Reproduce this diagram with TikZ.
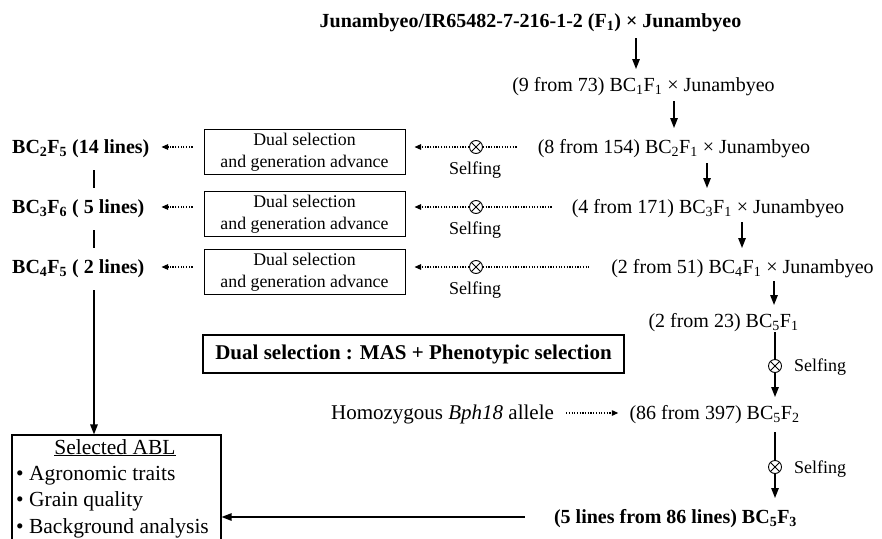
\documentclass[tikz,border=0pt]{standalone}
\usepackage{fontspec}
\setmainfont{Liberation Serif}
\usetikzlibrary{arrows.meta,calc}
\begin{document}
\begin{tikzpicture}[x=1pt,y=-1pt,
  txt/.style={inner sep=0pt,font=\fontsize{20}{24}\selectfont,text height=13pt,text depth=0pt},
  btxt/.style={txt,font=\fontsize{20}{24}\selectfont\bfseries},
  ltxt/.style={inner sep=0pt,font=\fontsize{21.5}{25}\selectfont,text height=14pt,text depth=0pt},
  stxt/.style={inner sep=0pt,font=\fontsize{18}{21}\selectfont,text height=12pt,text depth=0pt},
  arr/.style={line width=1.3pt,-{Triangle[length=10pt,width=7.5pt]}},
  plainline/.style={line width=1.3pt},
  dotarr/.style={line width=1.2pt,dash pattern=on 1.2pt off 1.5pt,-{Triangle[length=6.5pt,width=5.5pt]}},
  dotline/.style={line width=1.2pt,dash pattern=on 1.2pt off 1.5pt},
  selfbox/.style={draw,line width=1pt,minimum width=201pt,minimum height=45pt,inner sep=0pt,align=center,font=\fontsize{17.8}{22}\selectfont},
  otimes/.style={circle,draw,line width=0.9pt,minimum size=13pt,inner sep=0pt,
    path picture={\draw[line width=0.9pt] (path picture bounding box.north west)--(path picture bounding box.south east)
      (path picture bounding box.north east)--(path picture bounding box.south west);}},
]
\useasboundingbox (0,0) rectangle (882,538);

% right-hand main chain
\node[btxt] (n0) at (530.5,21) {Junambyeo/IR65482-7-216-1-2 (F\textsubscript{1}) × Junambyeo};
\node[txt] (n1) at (643.5,85) {(9 from 73) BC\textsubscript{1}F\textsubscript{1} × Junambyeo};
\node[txt] (n2) at (674,147) {(8 from 154) BC\textsubscript{2}F\textsubscript{1} × Junambyeo};
\node[txt] (n3) at (708,207) {(4 from 171) BC\textsubscript{3}F\textsubscript{1} × Junambyeo};
\node[txt] (n4) at (742.5,267) {(2 from 51) BC\textsubscript{4}F\textsubscript{1} × Junambyeo};
\node[txt] (n5) at (723.5,321) {(2 from 23) BC\textsubscript{5}F\textsubscript{1}};
\node[txt] (n6) at (714.5,413) {(86 from 397) BC\textsubscript{5}F\textsubscript{2}};
\node[btxt] (n7) at (675.5,517) {(5 lines from 86 lines) BC\textsubscript{5}F\textsubscript{3}};

\coordinate (xa) at (636,0);
\coordinate (xb) at (674,0);
\coordinate (xc) at (707,0);
\coordinate (xd) at (742,0);
\coordinate (xe) at (774,0);
\coordinate (xf) at (775,0);

\draw[arr] ($(n0.center -| xa)+(0,17)$) -- ($(n1.center -| xa)+(0,-16)$);
\draw[arr] ($(n1.center -| xb)+(0,16)$) -- ($(n2.center -| xb)+(0,-19)$);
\draw[arr] ($(n2.center -| xc)+(0,16)$) -- ($(n3.center -| xc)+(0,-19)$);
\draw[arr] ($(n3.center -| xd)+(0,15)$) -- ($(n4.center -| xd)+(0,-19)$);
\draw[arr] ($(n4.center -| xe)+(0,14)$) -- ($(n5.center -| xe)+(0,-16)$);

% BC5 selfing chain
\node[otimes] (c1) at (775,366) {};
\node[otimes] (c2) at (775,467) {};
\node[stxt] (cs1) at (820,365) {Selfing};
\node[stxt] (cs2) at (820,467) {Selfing};
\draw[plainline] ($(n5.center -| xf)+(0,11)$) -- (c1.north);
\draw[arr] (c1.south) -- ($(n6.center -| xf)+(0,-16)$);
\draw[plainline] ($(n6.center -| xf)+(0,19)$) -- (c2.north);
\draw[arr] (c2.south) -- ($(n7.center -| xf)+(0,-19)$);

% selection boxes
\node[selfbox] (b1) at (304.5,152) {Dual selection\\and generation advance};
\node[selfbox] (b2) at (304.5,214) {Dual selection\\and generation advance};
\node[selfbox] (b3) at (304.5,272) {Dual selection\\and generation advance};

\node[otimes] (s1) at (476,147) {};
\node[otimes] (s2) at (476,207) {};
\node[otimes] (s3) at (476,267) {};
\node[stxt] (sl1) at (475,168) {Selfing};
\node[stxt] (sl2) at (475,228) {Selfing};
\node[stxt] (sl3) at (475,288) {Selfing};

\draw[dotarr] (s1.west) -- ($(b1.east |- s1.center)+(9,0)$);
\draw[dotarr] (s2.west) -- ($(b2.east |- s2.center)+(9,0)$);
\draw[dotarr] (s3.west) -- ($(b3.east |- s3.center)+(9,0)$);
\draw[dotline] (s1.east) -- ($(n2.west)+(-20,0)$);
\draw[dotline] (s2.east) -- ($(n3.west)+(-20,0)$);
\draw[dotline] (s3.east) -- ($(n4.west)+(-22,0)$);

% left labels
\node[btxt,anchor=west] (l2) at (12,147) {BC\textsubscript{2}F\textsubscript{5} (14 lines)};
\node[btxt,anchor=west] (l3) at (12,207) {BC\textsubscript{3}F\textsubscript{6} ( 5 lines)};
\node[btxt,anchor=west] (l4) at (12,267) {BC\textsubscript{4}F\textsubscript{5} ( 2 lines)};

\draw[dotarr] ($(b1.west |- l2.center)+(-11,0)$) -- ++(-31,0);
\draw[dotarr] ($(b2.west |- l3.center)+(-11,0)$) -- ++(-31,0);
\draw[dotarr] ($(b3.west |- l4.center)+(-11,0)$) -- ++(-31,0);

\coordinate (xl) at (94,0);
\draw[plainline] ($(l2.center -| xl)+(0,23)$) -- ($(l3.center -| xl)+(0,-19)$);
\draw[plainline] ($(l3.center -| xl)+(0,23)$) -- ($(l4.center -| xl)+(0,-19)$);

% ABL box
\node[draw,line width=1.2pt,minimum width=209pt,minimum height=115pt,inner sep=0pt] (abl) at (116.5,492.5) {};
\node[ltxt] (t0) at (115,447) {\underline{Selected ABL}};
\node[ltxt,anchor=west] (t1) at (16,473) {• Agronomic traits};
\node[ltxt,anchor=west] (t2) at (16,499) {• Grain quality};
\node[ltxt,anchor=west] (t3) at (16,526) {• Background analysis};

\draw[arr] ($(l4.center -| xl)+(0,23)$) -- (abl.north -| xl);
\draw[arr] ($(n7.west)+(-29,0)$) -- (abl.east |- n7.center);

% dual selection legend
\node[draw,line width=1.6pt,minimum width=421pt,minimum height=38pt,inner sep=0pt,font=\fontsize{21}{24}\selectfont\bfseries] (ds) at (413.5,354) {Dual selection : MAS + Phenotypic selection};

% homozygous
\node[txt,font=\fontsize{21}{24}\selectfont] (h) at (442.5,413) {Homozygous \textit{Bph18} allele};
\draw[dotarr] ($(h.east)+(12,0)$) -- ($(n6.west)+(-11,0)$);
\end{tikzpicture}
\end{document}
